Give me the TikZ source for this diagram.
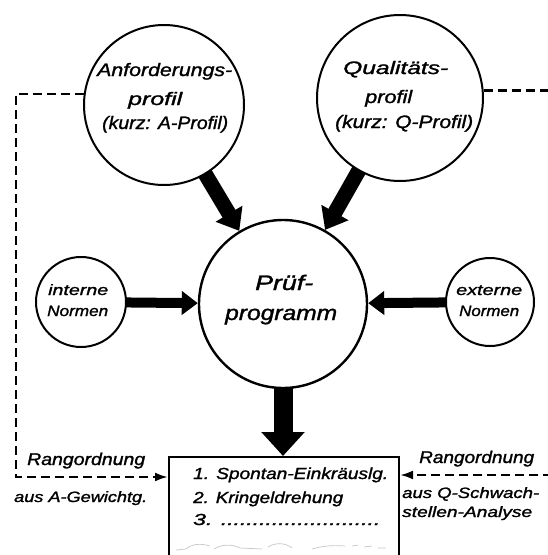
\documentclass[tikz,border=0pt]{standalone}
\usepackage{fontspec}
\setmainfont{Liberation Sans}
\newfontfamily\hand{Liberation Sans}[ItalicFeatures={FakeBold=1.3}]
\usetikzlibrary{arrows.meta,backgrounds}
\newcommand\fw[2]{\resizebox{#1pt}{\height}{#2}}
\begin{document}
\begin{tikzpicture}[x=1pt,y=-1pt,
  ring/.style={circle,draw,line width=2pt,fill=white,inner sep=0pt},
  lbl/.style={anchor=base west,inner sep=0pt},
  fa/.style={lbl,font=\hand\itshape\fontsize{18}{20}\selectfont},
  fp/.style={lbl,font=\hand\itshape\fontsize{21}{24}\selectfont},
  fn/.style={lbl,font=\hand\itshape\fontsize{15}{17}\selectfont},
  fb/.style={lbl,font=\hand\itshape\fontsize{16}{18}\selectfont},
  fr/.style={lbl,font=\hand\itshape\fontsize{17}{19}\selectfont},
  fs/.style={lbl,font=\hand\itshape\fontsize{15}{17}\selectfont},
  bigarrow/.style={line width=15pt,-{Triangle[length=20pt,width=30pt]}},
  medarrow/.style={line width=10pt,-{Triangle[length=16pt,width=23pt]}},
  downarrow/.style={line width=19pt,-{Triangle[length=24pt,width=42pt]}},
  dashline/.style={line width=2.4pt,dash pattern=on 9pt off 5pt},
  dasharrow/.style={dashline,-{Latex[length=13pt,width=9pt]}}]
\useasboundingbox (0,0) rectangle (548,555);

% circles
\node[ring,minimum size=160pt] (A) at (164,105) {};
\node[ring,minimum size=166pt] (Q) at (400,98) {};
\node[ring,minimum size=168pt,line width=2.4pt] (P) at (283,304) {};
\node[ring,minimum size=90pt] (IN) at (81,302) {};
\node[ring,minimum size=88pt] (EN) at (490,302) {};

% box
\node[draw,line width=2pt,anchor=north west,minimum width=230pt,minimum height=140pt,inner sep=0pt] (box) at (168,456) {};

% texts
\node[fa] (a1) at (97,76) {\fw{135}{Anforderungs-}};
\node[fa] (a2) at (128,105) {\fw{54}{profil}};
\node[fa] (a3) at (102,129) {\fw{126}{(kurz: A-Profil)}};
\node[fa] (q1) at (343,74) {\fw{105}{Qualitäts-}};
\node[fa] (q2) at (365,103) {\fw{47}{profil}};
\node[fa] (q3) at (335,128) {\fw{138}{(kurz: Q-Profil)}};
\node[fp] (p1) at (255,290) {\fw{58}{Prüf-}};
\node[fp] (p2) at (225,320) {\fw{112}{programm}};
\node[fn] (i1) at (48,295) {\fw{60}{interne}};
\node[fn] (i2) at (47,316) {\fw{61}{Normen}};
\node[fn] (e1) at (456,295) {\fw{66}{externe}};
\node[fn] (e2) at (459,316) {\fw{60}{Normen}};
\node[fb] (b1) at (193,479) {\fw{195}{1. Spontan-Einkräuslg.}};
\node[fb] (b2) at (193,503) {\fw{150}{2. Kringeldrehung}};
\node[fb] (b3) at (193,525) {\fw{187}{3. .........................}};
\node[fr] (l1) at (27,465) {\fw{118}{Rangordnung}};
\node[fs] (l2) at (14,502) {\fw{133}{aus A-Gewichtg.}};
\node[fr] (r1) at (419,463) {\fw{115}{Rangordnung}};
\node[fs] (r2) at (402,498) {\fw{137}{aus Q-Schwach-}};
\node[fs] (r3) at (402,517) {\fw{130}{stellen-Analyse}};

% torn edge sketch
\draw[gray!45,line width=0.7pt]
  (176,550) -- (186,549) .. controls (192,544) and (200,543) .. (210,546)
  (214,549) .. controls (222,544) and (232,544) .. (240,548) -- (262,549)
  (268,547) .. controls (276,542) and (286,543) .. (292,548)
  (312,549) .. controls (322,546) and (332,545) .. (345,546)
  (352,546) -- (358,545) (364,547) -- (372,546) (378,548) -- (386,548);

% arrows
\begin{scope}[on background layer]
\draw[bigarrow,shorten <=-4pt] (A) -- (P);
\draw[bigarrow,shorten <=-4pt] (Q) -- (P);
\draw[medarrow,shorten <=-3pt] (IN) -- (P);
\draw[medarrow,shorten <=-3pt] (EN) -- (P);
\draw[downarrow,shorten <=-4pt] (P.south) -- (P.south |- box.north);
\end{scope}

% dashed connectors
\coordinate (cL) at (16,477);
\coordinate (cRt) at (552,91);
\coordinate (cRb) at (552,475);
\draw[dasharrow] (A.172) -| (cL) -- (cL -| box.west);
\draw[dashline] (Q.5) -- (Q.5 -| cRt);
\draw[dasharrow] (cRb) -- (cRb -| box.east);
\end{tikzpicture}
\end{document}
